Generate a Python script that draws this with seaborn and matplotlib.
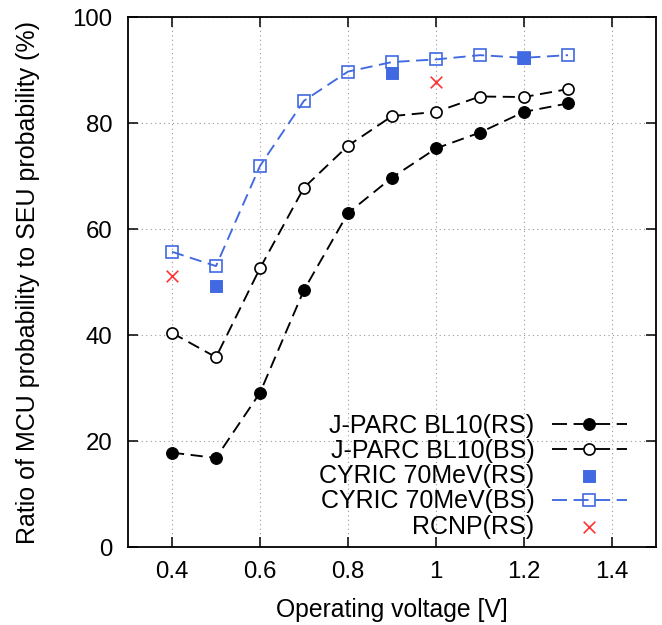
import numpy as np
import pandas as pd
import matplotlib
matplotlib.use("Agg")
import matplotlib.pyplot as plt
import seaborn as sns

voltage = [0.4, 0.5, 0.6, 0.7, 0.8, 0.9, 1.0, 1.1, 1.2, 1.3]
jparc_rs = [17.8, 16.8, 29.1, 48.5, 63.0, 69.7, 75.2, 78.2, 82.1, 83.7]
jparc_bs = [40.4, 35.8, 52.6, 67.8, 75.7, 81.3, 82.1, 85.0, 84.9, 86.4]
cyric_bs = [55.7, 53.0, 71.9, 84.2, 89.7, 91.5, 92.0, 92.8, 92.3, 92.8]
cyric_rs_v = [0.5, 0.9, 1.2]
cyric_rs = [49.3, 89.4, 92.3]
rcnp_v = [0.4, 1.0]
rcnp_rs = [51.2, 87.7]

sns.set_style("ticks")
plt.rcParams['font.family'] = ['Liberation Sans', 'DejaVu Sans']
plt.rcParams['text.color'] = 'black'
plt.rcParams['axes.labelcolor'] = 'black'
plt.rcParams['xtick.color'] = 'black'
plt.rcParams['ytick.color'] = 'black'

fig = plt.figure(figsize=(6.62, 6.25), dpi=100)
ax = fig.add_axes([128/662, 1-547/625, (656-128)/662, (547-17)/625])

blue = "#4169e1"
red = "#ff3333"
dash = (6.5, 3.5)
lw = 1.35

sns.lineplot(x=voltage, y=jparc_rs, ax=ax, color="black", lw=lw, marker="o",
             markersize=8.5, markerfacecolor="black", markeredgecolor="black",
             label="J-PARC BL10(RS)")
ax.lines[-1].set_dashes(dash)
sns.lineplot(x=voltage, y=jparc_bs, ax=ax, color="black", lw=lw, marker="o",
             markersize=8, markerfacecolor="white", markeredgecolor="black",
             markeredgewidth=1.2, label="J-PARC BL10(BS)")
ax.lines[-1].set_dashes(dash)
sns.scatterplot(x=cyric_rs_v, y=cyric_rs, ax=ax, color=blue, marker="s", s=72,
                edgecolor=blue, label="CYRIC 70MeV(RS)", zorder=3)
sns.lineplot(x=voltage, y=cyric_bs, ax=ax, color=blue, lw=lw, marker="s",
             markersize=8.5, markerfacecolor="none", markeredgecolor=blue,
             markeredgewidth=1.2, label="CYRIC 70MeV(BS)")
ax.lines[-1].set_dashes(dash)
sns.scatterplot(x=rcnp_v, y=rcnp_rs, ax=ax, color=red, marker="x", s=70,
                linewidth=1.2, label="RCNP(RS)", zorder=3)

ax.set_xlim(0.3, 1.5)
ax.set_ylim(0, 100)
ax.set_xticks([0.4, 0.6, 0.8, 1.0, 1.2, 1.4])
ax.set_xticklabels(["0.4", "0.6", "0.8", "1", "1.2", "1.4"])
ax.set_yticks([0, 20, 40, 60, 80, 100])
ax.grid(True, linestyle=(0, (1, 3)), color="#999999", lw=0.8)
ax.tick_params(direction="in", top=True, right=True, length=7, width=1.1,
               labelsize=17.3, color="black", labelcolor="black")
ax.tick_params(axis="x", pad=10)
ax.tick_params(axis="y", pad=11)
for s in ax.spines.values():
    s.set_visible(True)
    s.set_linewidth(1.3)
    s.set_color("black")

ax.set_xlabel("Operating voltage [V]", fontsize=17.8)
ax.set_ylabel("Ratio of MCU probability to SEU probability (%)", fontsize=18)
ax.xaxis.set_label_coords(0.5, -0.0962)
ax.yaxis.set_label_coords(-0.1667, 0.5)

leg = ax.legend(loc="lower right", frameon=False, markerfirst=False, fontsize=18,
                handlelength=3.0, handletextpad=0.7, labelspacing=0.05,
                borderpad=0, borderaxespad=0, bbox_to_anchor=(0.945, 0.016))
for t in leg.get_texts():
    t.set_ha("right")
for h in leg.get_lines():
    if h.get_linestyle() not in ("None", ""):
        h.set_dashes((8, 3.5))

fig.savefig("out.png", dpi=100)
